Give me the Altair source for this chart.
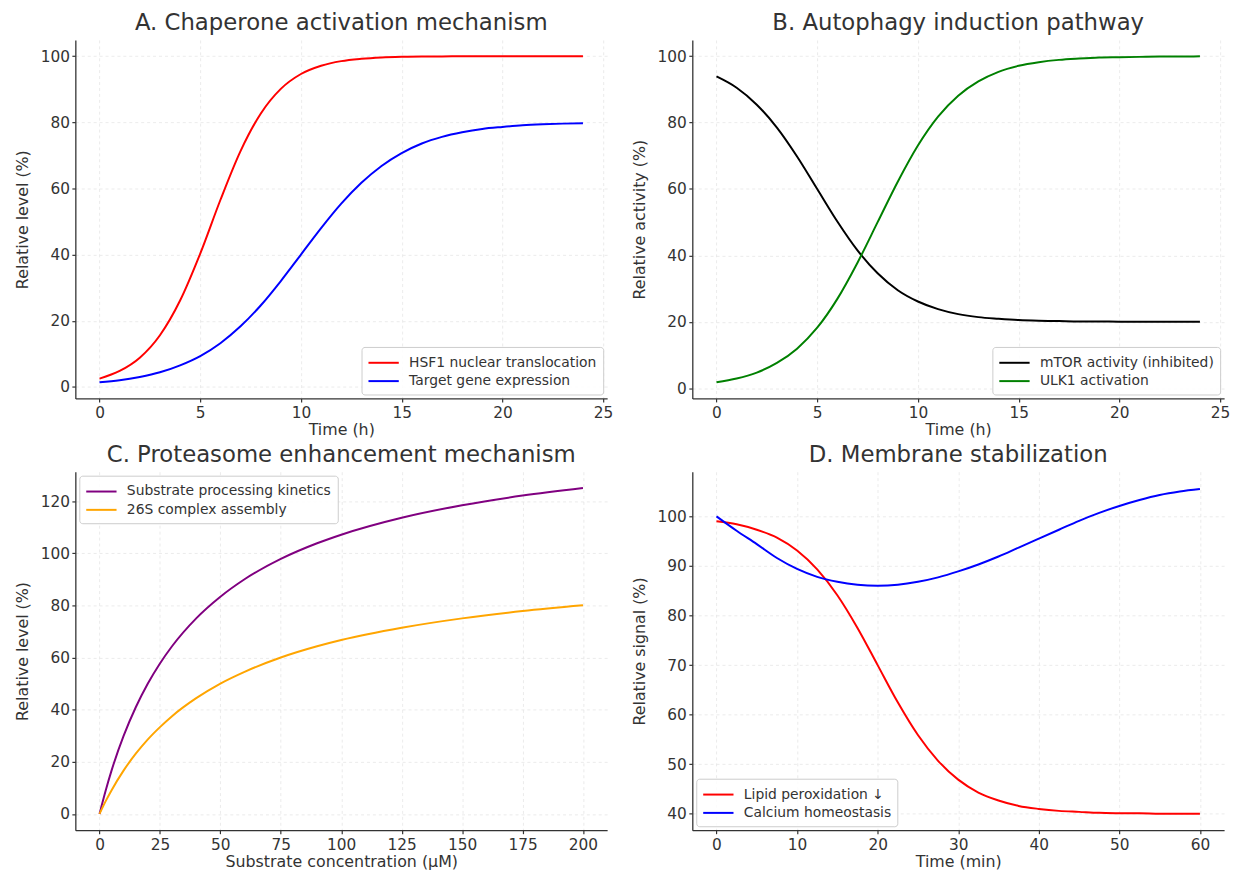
import altair as alt
import pandas as pd

FONT = "DejaVu Sans"
TXT = "#333333"

# ---- Panel A data (time in h) ----
t_a = list(range(25))
hsf1 = [2.5, 4.8, 8.8, 15.6, 26.1, 40.3, 56.5, 71.3, 82.6, 90.1, 94.6, 97.1, 98.5,
        99.2, 99.6, 99.8, 99.9, 99.9, 100.0, 100.0, 100.0, 100.0, 100.0, 100.0, 100.0]
target = [1.4, 2.0, 3.0, 4.4, 6.5, 9.3, 13.2, 18.3, 24.6, 32.0, 40.0, 48.0, 55.4,
          61.7, 66.8, 70.7, 73.6, 75.6, 77.0, 78.0, 78.6, 79.1, 79.4, 79.6, 79.7]

# ---- Panel B data (time in h) ----
t_b = list(range(25))
mtor = [93.9, 90.5, 85.4, 78.5, 69.8, 60.0, 50.2, 41.5, 34.6, 29.5, 26.1, 23.8, 22.3,
        21.4, 20.9, 20.5, 20.3, 20.2, 20.1, 20.1, 20.0, 20.0, 20.0, 20.0, 20.0]
ulk1 = [1.8, 2.9, 4.7, 7.6, 11.9, 18.2, 26.9, 37.8, 50.0, 62.2, 73.1, 81.8, 88.1,
        92.4, 95.3, 97.1, 98.2, 98.9, 99.3, 99.6, 99.7, 99.8, 99.9, 99.9, 100.0]

# ---- Panel C data (substrate in uM) ----
s_c = [0, 2.5, 5, 10, 15, 20, 25, 30, 40, 50, 60, 75, 90, 100, 125, 150, 175, 200]
substrate = [0, 8.8, 16.7, 30.0, 40.9, 50.0, 57.7, 64.3, 75.0, 83.3, 90.0, 97.8,
             103.8, 107.1, 113.6, 118.4, 122.1, 125.0]
assembly = [0, 4.8, 9.1, 16.7, 23.1, 28.6, 33.3, 37.5, 44.4, 50.0, 54.5, 60.0,
            64.3, 66.7, 71.4, 75.0, 77.8, 80.0]

# ---- Panel D data (time in min) ----
t_d = [0, 2.5, 5, 7.5, 10, 12.5, 15, 17.5, 20, 22.5, 25, 27.5, 30, 32.5, 35, 37.5,
       40, 42.5, 45, 47.5, 50, 52.5, 55, 57.5, 60]
lipid = [99.0, 98.4, 97.3, 95.7, 93.1, 89.3, 84.1, 77.5, 70.0, 62.5, 55.9, 50.7, 46.9,
         44.3, 42.7, 41.6, 41.0, 40.6, 40.4, 40.2, 40.1, 40.1, 40.0, 40.0, 40.0]
calcium = [100.0, 97.1, 94.4, 91.6, 89.4, 87.8, 86.8, 86.2, 86.0, 86.2, 86.8, 87.7, 88.9,
           90.3, 91.9, 93.7, 95.5, 97.3, 99.1, 100.7, 102.1, 103.3, 104.3, 105.0, 105.5]


def long_df(xs, series):
    rows = []
    for name, ys in series:
        for xv, yv in zip(xs, ys):
            rows.append({"x": xv, "y": yv, "series": name})
    return pd.DataFrame(rows)


W, H = 537, 362


def panel(df, names, colors, xdom, xticks, ydom, yticks, xtitle, ytitle, title, lorient):
    return alt.Chart(df).mark_line(strokeWidth=2, interpolate="monotone", clip=True).encode(
        x=alt.X("x:Q", scale=alt.Scale(domain=xdom, nice=False, zero=False),
                axis=alt.Axis(values=xticks, title=xtitle, format="d")),
        y=alt.Y("y:Q", scale=alt.Scale(domain=ydom, nice=False, zero=False),
                axis=alt.Axis(values=yticks, title=ytitle, format="d")),
        color=alt.Color("series:N", sort=names,
                        scale=alt.Scale(domain=names, range=colors),
                        legend=alt.Legend(orient=lorient, title=None)),
    ).properties(width=W, height=H, title=title)


a_names = ["HSF1 nuclear translocation", "Target gene expression"]
b_names = ["mTOR activity (inhibited)", "ULK1 activation"]
c_names = ["Substrate processing kinetics", "26S complex assembly"]
d_names = ["Lipid peroxidation \u2193", "Calcium homeostasis"]

pa = panel(long_df(t_a, zip(a_names, [hsf1, target])), a_names, ["#ff0000", "#0000ff"],
           [-1.2, 25.2], [0, 5, 10, 15, 20, 25], [-3.5, 104.9], [0, 20, 40, 60, 80, 100],
           "Time (h)", "Relative level (%)", "A. Chaperone activation mechanism", "bottom-right")
pb = panel(long_df(t_b, zip(b_names, [mtor, ulk1])), b_names, ["#000000", "#008000"],
           [-1.2, 25.2], [0, 5, 10, 15, 20, 25], [-3.1, 104.9], [0, 20, 40, 60, 80, 100],
           "Time (h)", "Relative activity (%)", "B. Autophagy induction pathway", "bottom-right")
pc = panel(long_df(s_c, zip(c_names, [substrate, assembly])), c_names, ["#800080", "#ffa500"],
           [-10, 210], [0, 25, 50, 75, 100, 125, 150, 175, 200], [-6.25, 131.25],
           [0, 20, 40, 60, 80, 100, 120],
           "Substrate concentration (\u00b5M)", "Relative level (%)",
           "C. Proteasome enhancement mechanism", "top-left")
pd_ = panel(long_df(t_d, zip(d_names, [lipid, calcium])), d_names, ["#ff0000", "#0000ff"],
            [-3, 63], [0, 10, 20, 30, 40, 50, 60], [36.7, 109.0], [40, 50, 60, 70, 80, 90, 100],
            "Time (min)", "Relative signal (%)", "D. Membrane stabilization", "bottom-left")

chart = alt.concat(
    pa, pb, pc, pd_, columns=2, spacing={"row": 74, "column": 86}, bounds="flush"
).resolve_scale(
    x="independent", y="independent", color="independent"
).resolve_legend(
    color="independent"
).resolve_axis(
    x="independent", y="independent"
).properties(
    padding={"left": 6, "top": 0, "right": 5, "bottom": 5}
).configure(
    font=FONT, background="white"
).configure_view(
    strokeOpacity=0
).configure_axis(
    labelFont=FONT, titleFont=FONT, labelFontSize=15.5, titleFontSize=16,
    labelColor=TXT, titleColor=TXT, titleFontWeight="normal",
    domainColor=TXT, domainWidth=1.3, tickColor=TXT, tickSize=3.5, tickWidth=1.2,
    gridColor="#e6e6e6", gridDash=[3, 3], gridWidth=0.8
).configure_axisX(
    labelPadding=3.5, titlePadding=1
).configure_axisY(
    labelPadding=2.5, titlePadding=10
).configure_title(
    font=FONT, fontSize=23, fontWeight="normal", color=TXT, anchor="middle", offset=5
).configure_legend(
    labelFont=FONT, labelFontSize=14, labelColor=TXT,
    symbolType="M-1,0L2.4,0", symbolStrokeWidth=2, symbolSize=324, labelOffset=22,
    strokeColor="#cccccc", fillColor="rgba(255,255,255,0.85)", cornerRadius=3,
    padding=6, rowPadding=1.5, offset=4, labelLimit=400
)

chart.save("out.html", embed_options={"renderer": "svg", "actions": False})
